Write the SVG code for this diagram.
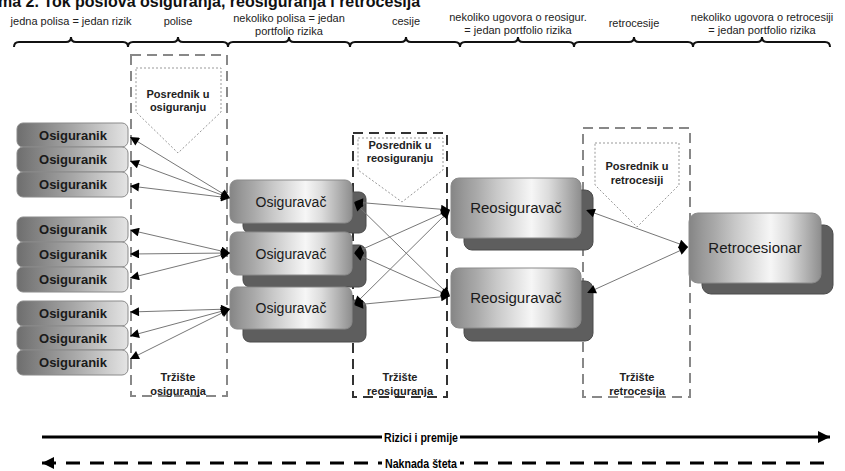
<svg xmlns="http://www.w3.org/2000/svg" width="845" height="471" viewBox="0 0 845 471">
<style>
.hdr{font-family:"Liberation Sans",Arial,sans-serif;font-size:11px;fill:#222;text-anchor:middle}
.brace{fill:none;stroke:#111;stroke-width:2}
.ik{font-family:"Liberation Sans",Arial,sans-serif;font-size:13px;font-weight:bold;fill:#1a1a1a;text-anchor:middle}
.ikbox{fill:url(#gIk);stroke:#8a8a8a;stroke-width:1}
.front{fill:url(#gNode);stroke:#8a8a8a;stroke-width:1}
.shadow{fill:#5e5e5e;stroke:#4a4a4a;stroke-width:1}
.nt{font-family:"Liberation Sans",Arial,sans-serif;fill:#1a1a1a;text-anchor:middle}
.pos{font-family:"Liberation Sans",Arial,sans-serif;font-size:11px;font-weight:bold;fill:#222;text-anchor:middle}
.pent{fill:#fff;stroke:#999;stroke-width:1;stroke-dasharray:2,2}
.outer{fill:none;stroke:#888;stroke-width:2;stroke-dasharray:10,6}
.outerD{fill:none;stroke:#333;stroke-width:2;stroke-dasharray:10,6}
.con line{stroke:#777;stroke-width:1;marker-start:url(#ah);marker-end:url(#ah)}
.flow{font-family:"Liberation Sans",Arial,sans-serif;font-size:13px;font-weight:bold;fill:#000;text-anchor:middle}
</style>
<defs>
<linearGradient id="gIk" x1="0" y1="0" x2="1" y2="0">
<stop offset="0" stop-color="#6e6e6e"/>
<stop offset="0.5" stop-color="#a6a6a6"/>
<stop offset="1" stop-color="#e4e4e4"/>
</linearGradient>
<linearGradient id="gNode" x1="0" y1="0" x2="1" y2="0">
<stop offset="0" stop-color="#858585"/>
<stop offset="0.1" stop-color="#999"/>
<stop offset="0.2" stop-color="#aaa"/>
<stop offset="0.35" stop-color="#c8c8c8"/>
<stop offset="0.5" stop-color="#e2e2e2"/>
<stop offset="0.62" stop-color="#f6f6f6"/>
<stop offset="0.75" stop-color="#dcdcdc"/>
<stop offset="0.88" stop-color="#b4b4b4"/>
<stop offset="1" stop-color="#8e8e8e"/>
</linearGradient>
<marker id="ah" viewBox="0 0 10 10" refX="10" refY="5" markerWidth="10" markerHeight="9" markerUnits="userSpaceOnUse" orient="auto-start-reverse">
<path d="M0,0 L10,5 L0,10 z" fill="#000"/>
</marker>
<marker id="bigA" viewBox="0 0 10 10" refX="10" refY="5" markerWidth="14" markerHeight="12" markerUnits="userSpaceOnUse" orient="auto-start-reverse">
<path d="M0,0 L10,5 L0,10 z" fill="#000"/>
</marker>
</defs>
<rect width="845" height="471" fill="#fff"/>

<text x="-2" y="7" font-family="Liberation Sans,Arial,sans-serif" font-size="16" font-weight="bold" fill="#111">ma 2. Tok poslova osiguranja, reosiguranja i retrocesija</text>

<g id="header">
<text class="hdr" x="71" y="25">jedna polisa = jedan rizik</text>
<text class="hdr" x="178" y="25">polise</text>
<text class="hdr" x="289" y="22">nekoliko polisa = jedan</text>
<text class="hdr" x="289" y="35">portfolio rizika</text>
<text class="hdr" x="406" y="25">cesije</text>
<text class="hdr" x="518" y="21">nekoliko ugovora o reosigur.</text>
<text class="hdr" x="518" y="34">= jedan portfolio rizika</text>
<text class="hdr" x="634" y="27">retrocesije</text>
<text class="hdr" x="762" y="21">nekoliko ugovora o retrocesiji</text>
<text class="hdr" x="762" y="34">= jedan portfolio rizika</text>
<path class="brace" d="M14,47 Q14,42 19,42 L66,42 Q71,42 71,37 Q71,42 76,42 L123,42 Q128,42 128,47"/>
<path class="brace" d="M128,47 Q128,42 133,42 L173,42 Q178,42 178,37 Q178,42 183,42 L223,42 Q228,42 228,47"/>
<path class="brace" d="M228,47 Q228,42 233,42 L284,42 Q289,42 289,37 Q289,42 294,42 L345,42 Q350,42 350,47"/>
<path class="brace" d="M350,47 Q350,42 355,42 L401,42 Q406,42 406,37 Q406,42 411,42 L455,42 Q460,42 460,47"/>
<path class="brace" d="M460,47 Q460,42 465,42 L513,42 Q518,42 518,37 Q518,42 523,42 L569,42 Q574,42 574,47"/>
<path class="brace" d="M574,47 Q574,42 579,42 L629,42 Q634,42 634,37 Q634,42 639,42 L688,42 Q693,42 693,47"/>
<path class="brace" d="M693,47 Q693,42 698,42 L757,42 Q762,42 762,37 Q762,42 767,42 L825,42 Q830,42 830,47"/>
</g>

<g id="trziste-osiguranja">
<rect class="outer" x="131" y="55" width="96" height="341"/>
<path class="pent" d="M136,68 L221,68 L221,112 L178,153 L136,112 Z"/>
<text class="pos" x="178" y="98">Posrednik u</text>
<text class="pos" x="178" y="111">osiguranju</text>
<text class="pos" x="178" y="381">Tržište</text>
<text class="pos" x="178" y="395">osiguranja</text>
</g>

<g id="trziste-reosiguranja">
<rect class="outerD" x="353" y="133" width="94" height="264"/>
<path class="pent" d="M358,138 L443,138 L443,170 L402,202 L358,170 Z"/>
<text class="pos" x="400" y="149">Posrednik u</text>
<text class="pos" x="400" y="162">reosiguranju</text>
<text class="pos" x="400" y="381">Tržište</text>
<text class="pos" x="400" y="395">reosiguranja</text>
</g>

<g id="trziste-retrocesija">
<rect class="outer" x="583" y="128" width="107" height="269"/>
<path class="pent" d="M595,143 L679,143 L679,185 L637,227 L595,185 Z"/>
<text class="pos" x="637" y="170">Posrednik u</text>
<text class="pos" x="637" y="184">retrocesiji</text>
<text class="pos" x="637" y="381">Tržište</text>
<text class="pos" x="637" y="395">retrocesija</text>
</g>

<g id="osiguranik-1"><rect class="ikbox" x="17" y="123" width="111" height="24" rx="6"/><text class="ik" x="73" y="140">Osiguranik</text></g>
<g id="osiguranik-2"><rect class="ikbox" x="17" y="147" width="111" height="25" rx="6"/><text class="ik" x="73" y="164">Osiguranik</text></g>
<g id="osiguranik-3"><rect class="ikbox" x="17" y="172" width="111" height="25" rx="6"/><text class="ik" x="73" y="189">Osiguranik</text></g>
<g id="osiguranik-4"><rect class="ikbox" x="17" y="217" width="111" height="25" rx="6"/><text class="ik" x="73" y="234">Osiguranik</text></g>
<g id="osiguranik-5"><rect class="ikbox" x="17" y="242" width="111" height="25" rx="6"/><text class="ik" x="73" y="259">Osiguranik</text></g>
<g id="osiguranik-6"><rect class="ikbox" x="17" y="267" width="111" height="25" rx="6"/><text class="ik" x="73" y="284">Osiguranik</text></g>
<g id="osiguranik-7"><rect class="ikbox" x="17" y="301" width="111" height="25" rx="6"/><text class="ik" x="73" y="318">Osiguranik</text></g>
<g id="osiguranik-8"><rect class="ikbox" x="17" y="326" width="111" height="24" rx="6"/><text class="ik" x="73" y="343">Osiguranik</text></g>
<g id="osiguranik-9"><rect class="ikbox" x="17" y="350" width="111" height="25" rx="6"/><text class="ik" x="73" y="367">Osiguranik</text></g>

<g id="osiguravac-1"><rect class="shadow" x="243" y="192" width="123" height="41" rx="7"/><rect class="front" x="230" y="180" width="122" height="43" rx="7"/><text class="nt" x="291" y="207" font-size="14">Osiguravač</text></g>
<g id="osiguravac-2"><rect class="shadow" x="243" y="245" width="123" height="42" rx="7"/><rect class="front" x="230" y="232" width="122" height="43" rx="7"/><text class="nt" x="291" y="259" font-size="14">Osiguravač</text></g>
<g id="osiguravac-3"><rect class="shadow" x="243" y="300" width="123" height="42" rx="7"/><rect class="front" x="230" y="287" width="122" height="42" rx="7"/><text class="nt" x="291" y="313" font-size="14">Osiguravač</text></g>

<g id="reosiguravac-1"><rect class="shadow" x="464" y="190" width="129" height="60" rx="8"/><rect class="front" x="451" y="178" width="130" height="60" rx="8"/><text class="nt" x="516" y="213" font-size="15">Reosiguravač</text></g>
<g id="reosiguravac-2"><rect class="shadow" x="464" y="281" width="129" height="60" rx="8"/><rect class="front" x="451" y="268" width="130" height="60" rx="8"/><text class="nt" x="516" y="303" font-size="15">Reosiguravač</text></g>

<g id="retrocesionar"><rect class="shadow" x="702" y="225" width="131" height="69" rx="9"/><rect class="front" x="689" y="213" width="132" height="70" rx="9"/><text class="nt" x="755" y="253" font-size="15">Retrocesionar</text></g>

<g id="connectors" class="con">
<line x1="230" y1="198" x2="130" y2="137"/>
<line x1="230" y1="198" x2="130" y2="161"/>
<line x1="230" y1="198" x2="130" y2="186"/>
<line x1="230" y1="253" x2="130" y2="230"/>
<line x1="230" y1="253" x2="130" y2="254"/>
<line x1="230" y1="253" x2="130" y2="278"/>
<line x1="230" y1="309" x2="130" y2="312"/>
<line x1="230" y1="309" x2="130" y2="336"/>
<line x1="230" y1="309" x2="130" y2="359"/>
<line x1="354" y1="202" x2="450" y2="210"/>
<line x1="354" y1="202" x2="450" y2="296"/>
<line x1="354" y1="253" x2="450" y2="210"/>
<line x1="354" y1="253" x2="450" y2="296"/>
<line x1="354" y1="305" x2="450" y2="210"/>
<line x1="354" y1="305" x2="450" y2="296"/>
<line x1="586" y1="210" x2="688" y2="247"/>
<line x1="587" y1="293" x2="688" y2="247"/>
</g>

<g id="flows">
<line x1="42" y1="437" x2="830" y2="437" stroke="#000" stroke-width="3" marker-end="url(#bigA)"/>
<rect x="382" y="429" width="78" height="16" fill="#fff"/>
<text class="flow" x="421" y="442" textLength="74" lengthAdjust="spacingAndGlyphs">Rizici i premije</text>
<line x1="42" y1="463" x2="830" y2="463" stroke="#000" stroke-width="3" stroke-dasharray="14,10" marker-start="url(#bigA)"/>
<rect x="382" y="455" width="78" height="16" fill="#fff"/>
<text class="flow" x="421" y="468" textLength="72" lengthAdjust="spacingAndGlyphs">Naknada šteta</text>
</g>
</svg>
